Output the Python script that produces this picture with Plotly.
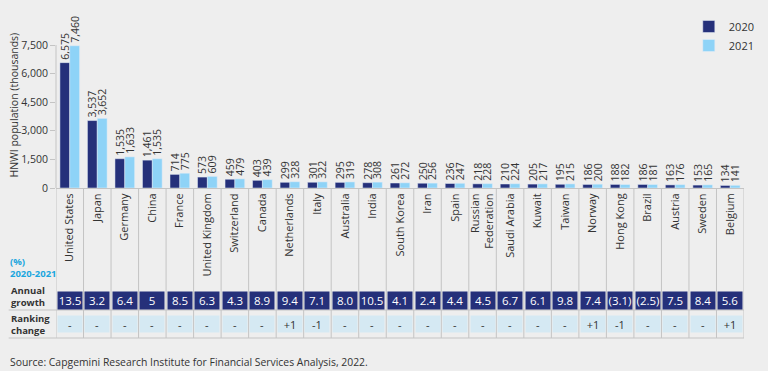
import plotly.graph_objects as go

countries = ["United States", "Japan", "Germany", "China", "France", "United Kingdom",
             "Switzerland", "Canada", "Netherlands", "Italy", "Australia", "India",
             "South Korea", "Iran", "Spain", "Russian<br>Federation", "Saudi Arabia",
             "Kuwait", "Taiwan", "Norway", "Hong Kong", "Brazil", "Austria", "Sweden", "Belgium"]
pop_2020 = [6575, 3537, 1535, 1461, 714, 573, 459, 403, 299, 301, 295, 278, 261, 250,
            236, 218, 210, 205, 195, 186, 188, 186, 163, 153, 134]
pop_2021 = [7460, 3652, 1633, 1535, 775, 609, 479, 439, 328, 322, 319, 308, 272, 256,
            247, 228, 224, 217, 215, 200, 182, 181, 176, 165, 141]
growth = ["13.5", "3.2", "6.4", "5", "8.5", "6.3", "4.3", "8.9", "9.4", "7.1", "8.0", "10.5",
          "4.1", "2.4", "4.4", "4.5", "6.7", "6.1", "9.8", "7.4", "(3.1)", "(2.5)", "7.5", "8.4", "5.6"]
ranking = ["-", "-", "-", "-", "-", "-", "-", "-", "+1", "-1", "-", "-", "-", "-", "-", "-",
           "-", "-", "-", "+1", "-1", "-", "-", "-", "+1"]
y_ticks = [0, 1500, 3000, 4500, 6000, 7500]

NAVY = "#25307a"
LIGHT = "#8ed3f7"
PALE = "#d5e9f3"
BG = "#eeeeee"
GRID = "#c4c4c4"
TXT = "#333333"
FONT = "Open Sans"

W, H = 768, 371
L, R = 56, 754
T, B = 8, 188  # plot top / bottom pixel
YMAX = (B - T) / ((B - 45) / 7500)

def py(p):
    return (B - p) / (B - T)

def px(p):
    return (p - L) / (R - L)

n = len(countries)
idx = list(range(n))

fig = go.Figure()
fig.add_bar(x=idx, y=pop_2020, name="2020", marker_color=NAVY,
            text=[f"{v:,}" for v in pop_2020], textposition="outside", textangle=-90,
            textfont=dict(size=10.5, color=TXT, family=FONT), cliponaxis=False,
            constraintext="none", hoverinfo="skip")
fig.add_bar(x=idx, y=pop_2021, name="2021", marker_color=LIGHT,
            text=[f"{v:,}" for v in pop_2021], textposition="outside", textangle=-90,
            textfont=dict(size=10.5, color=TXT, family=FONT), cliponaxis=False,
            constraintext="none", hoverinfo="skip")

shapes = []
annotations = []

shapes.append(dict(type="line", xref="paper", yref="y", x0=0, x1=0, y0=0, y1=y_ticks[-1],
                   line=dict(color=GRID, width=1)))
for i in range(n + 1):
    shapes.append(dict(type="line", xref="x", yref="paper", x0=i - 0.5, x1=i - 0.5,
                       y0=py(188), y1=py(338), line=dict(color=GRID, width=1)))
for yy in (310, 338):
    shapes.append(dict(type="line", xref="paper", yref="paper", x0=px(8), x1=1,
                       y0=py(yy), y1=py(yy), line=dict(color=GRID, width=1)))
for i in range(n):
    annotations.append(dict(xref="x", yref="paper", x=i, y=py(300.2), text=growth[i],
                            showarrow=False, width=24, height=17, borderpad=0,
                            bgcolor=NAVY, xanchor="center", yanchor="middle",
                            font=dict(size=11.5, color="white", family=FONT)))
    annotations.append(dict(xref="x", yref="paper", x=i, y=py(323.5), text=ranking[i],
                            showarrow=False, width=24, height=16, borderpad=0,
                            bgcolor=PALE, xanchor="center", yanchor="middle",
                            font=dict(size=11, color=TXT, family=FONT)))

annotations += [
    dict(xref="paper", yref="paper", x=px(7), y=py(267), xanchor="left", yanchor="middle",
         text="<b>(%)<br>2020-2021</b>", align="left", showarrow=False,
         font=dict(size=9.5, color="#1ba6de", family=FONT)),
    dict(xref="paper", yref="paper", x=px(8), y=py(296), xanchor="left", yanchor="middle",
         text="<b>Annual<br>growth</b>", align="left", showarrow=False,
         font=dict(size=9.5, color=TXT, family=FONT)),
    dict(xref="paper", yref="paper", x=px(8), y=py(324), xanchor="left", yanchor="middle",
         text="<b>Ranking<br>change</b>", align="left", showarrow=False,
         font=dict(size=9.5, color=TXT, family=FONT)),
    dict(xref="paper", yref="paper", x=px(7), y=py(362), xanchor="left", yanchor="middle",
         text="Source: Capgemini Research Institute for Financial Services Analysis, 2022.",
         showarrow=False, font=dict(size=10.4, color=TXT, family=FONT)),
    dict(xref="paper", yref="paper", x=px(13), y=py(105), xanchor="center", yanchor="middle",
         text="HNWI population (thousands)", textangle=-90, showarrow=False,
         font=dict(size=10.5, color=TXT, family=FONT)),
]

fig.update_layout(
    width=W, height=H,
    margin=dict(l=L, r=W - R, t=T, b=H - B),
    paper_bgcolor=BG, plot_bgcolor=BG,
    barmode="group", bargap=0.285, bargroupgap=0,
    font=dict(family=FONT, color=TXT, size=10.5),
    showlegend=True,
    legend=dict(x=px(698), y=py(12), xanchor="left", yanchor="top",
                bgcolor="rgba(0,0,0,0)", font=dict(size=11, color=TXT, family=FONT),
                itemwidth=30, tracegroupgap=0),
    shapes=shapes, annotations=annotations,
)
fig.update_xaxes(tickmode="array", tickvals=idx, ticktext=countries, tickangle=-90,
                 showgrid=False, showline=True, linecolor=GRID, linewidth=1,
                 ticks="", range=[-0.5, n - 0.5], tickfont=dict(size=11, color=TXT, family=FONT),
                 zeroline=False)
fig.update_yaxes(range=[0, YMAX], tickvals=y_ticks, tickformat=",", showgrid=False,
                 showline=False, zeroline=False, ticks="outside", ticklen=5, tickcolor=GRID,
                 tickfont=dict(size=10.5, color=TXT, family=FONT))

fig.write_html("out.html", config={"displayModeBar": False},
               post_script="document.body.style.margin='0';document.body.style.background='#eeeeee';")
